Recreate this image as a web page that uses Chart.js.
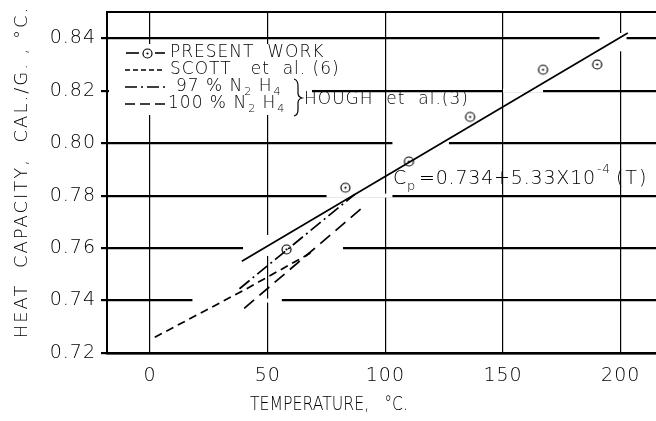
<!DOCTYPE html>
<html>
<head>
<meta charset="utf-8">
<script src="https://cdn.jsdelivr.net/npm/chart.js@4"></script>
<style>
  html, body { margin: 0; padding: 0; background: #fff; }
  #wrap { width: 656px; height: 421px; }
</style>
</head>
<body>
<div id="wrap"><canvas id="chart" width="656" height="421"></canvas></div>
<script>
// present work measurements
const PW_T = [58, 83, 110, 136, 167, 190];
const PW_CP = [0.7595, 0.783, 0.793, 0.810, 0.828, 0.830];
// least squares line Cp = 0.734 + 5.33e-4 T, end points
const FIT_T = [39, 203];
const FIT_CP = [0.755, 0.842];
// Scott et al. (6)
const SCOTT_T = [2, 40, 70];
const SCOTT_CP = [0.726, 0.744, 0.759];
// Hough et al. (3)
const H97_T = [38, 87];
const H97_CP = [0.7445, 0.7805];
const H100_T = [40, 91];
const H100_CP = [0.737, 0.776];

const X_TICKS = [0, 50, 100, 150, 200];
const Y_TICKS = [0.72, 0.74, 0.76, 0.78, 0.80, 0.82, 0.84];

// places where the draftsman left the grid open around the curves (data units)
const H_GAPS = [[0.74, 18, 56], [0.76, 39.5, 82], [0.78, 75, 103], [0.80, 103, 127], [0.82, 150, 167], [0.84, 191, 202.5]];
const V_GAPS = [[50, 0.757, 0.765], [200, 0.835, 0.842]];

const FONT = "DejaVu Sans";
const DASH_SCOTT = [8, 5];
const DASH_97 = [13, 4, 2, 4];
const DASH_100 = [13, 7];

function xy(xs, ys) {
  return xs.map((x, i) => ({ x: x, y: ys[i] }));
}

function dotCircle() {
  const c = document.createElement("canvas");
  c.width = 13;
  c.height = 13;
  const g = c.getContext("2d");
  g.strokeStyle = "#000";
  g.lineWidth = 1.2;
  g.beginPath();
  g.arc(6.5, 6.5, 4.5, 0, Math.PI * 2);
  g.stroke();
  g.fillStyle = "#000";
  g.beginPath();
  g.arc(6.5, 6.5, 1.1, 0, Math.PI * 2);
  g.fill();
  return c;
}
const MARK = dotCircle();

function line(ctx, x1, y1, x2, y2, dash) {
  ctx.setLineDash(dash || []);
  ctx.beginPath();
  ctx.moveTo(x1, y1);
  ctx.lineTo(x2, y2);
  ctx.stroke();
  ctx.setLineDash([]);
}

// draws a piece of text, returns end x
function txt(ctx, s, x, y, size) {
  ctx.font = "200 " + size + "px '" + FONT + "'";
  ctx.fillText(s, x, y);
  return x + ctx.measureText(s).width;
}

const decor = {
  id: "decor",
  beforeDraw(chart) {
    chart.ctx.letterSpacing = "1px";
  },
  beforeDatasetsDraw(chart) {
    const ctx = chart.ctx;
    const a = chart.chartArea;
    const sx = chart.scales.x;
    const sy = chart.scales.y;
    ctx.save();
    ctx.fillStyle = "#fff";
    H_GAPS.forEach(([v, from, to]) => {
      const py = sy.getPixelForValue(v);
      const x1 = sx.getPixelForValue(from);
      ctx.fillRect(x1, py - 2, sx.getPixelForValue(to) - x1, 4);
    });
    V_GAPS.forEach(([v, from, to]) => {
      const px = sx.getPixelForValue(v);
      const y1 = sy.getPixelForValue(to);
      ctx.fillRect(px - 1.5, y1, 3, sy.getPixelForValue(from) - y1);
    });
    // legend box hides the grid
    ctx.fillRect(a.left + 2, 44, 203, 71);
    // top frame
    ctx.strokeStyle = "#000";
    ctx.lineWidth = 2;
    line(ctx, a.left, a.top, a.right, a.top);
    ctx.restore();
  },
  afterDraw(chart) {
    const ctx = chart.ctx;
    ctx.save();
    ctx.fillStyle = "#000";
    ctx.strokeStyle = "#000";
    ctx.textBaseline = "middle";
    ctx.textAlign = "left";
    ctx.letterSpacing = "1px";

    // legend samples
    ctx.lineWidth = 1.6;
    line(ctx, 126, 53, 139, 53);
    ctx.drawImage(MARK, 141, 47);
    line(ctx, 155, 53, 165, 53);
    line(ctx, 125, 70, 165, 70, [5, 3]);
    line(ctx, 125, 87, 165, 87, [12, 4, 2, 4]);
    line(ctx, 125, 104, 165, 104, [10, 5]);

    // legend text
    txt(ctx, "PRESENT  WORK", 170, 53, 17);
    txt(ctx, "SCOTT   et  al. (6)", 170, 70, 17);
    let x = txt(ctx, "97 % N", 176, 87, 17);
    x = txt(ctx, "2", x + 1, 92, 11);
    x = txt(ctx, " H", x, 87, 17);
    txt(ctx, "4", x + 1, 92, 11);
    x = txt(ctx, "100 % N", 168, 104, 17);
    x = txt(ctx, "2", x + 1, 109, 11);
    x = txt(ctx, " H", x, 104, 17);
    txt(ctx, "4", x + 1, 109, 11);

    // brace
    ctx.lineWidth = 1.2;
    ctx.beginPath();
    ctx.moveTo(294, 79);
    ctx.quadraticCurveTo(298, 80, 298, 86);
    ctx.lineTo(298, 93);
    ctx.quadraticCurveTo(298, 97, 302, 98);
    ctx.quadraticCurveTo(298, 99, 298, 103);
    ctx.lineTo(298, 110);
    ctx.quadraticCurveTo(298, 115, 294, 116);
    ctx.stroke();
    txt(ctx, "HOUGH  et  al.(3)", 304, 100, 17);

    // fitted equation
    txt(ctx, "C", 393, 179, 19);
    txt(ctx, "p", 407, 187, 13);
    ctx.letterSpacing = "0.8px";
    x = txt(ctx, "=0.734+5.33X10", 419, 179, 19);
    ctx.letterSpacing = "1px";
    x = txt(ctx, "-4", x + 1, 170, 12);
    ctx.letterSpacing = "2px";
    txt(ctx, "(T)", x + 5, 179, 19);

    // x title, squeezed to the lettering width
    ctx.letterSpacing = "0px";
    ctx.font = "200 19px '" + FONT + "'";
    const xt = "TEMPERATURE,   °C.";
    const w = ctx.measureText(xt).width;
    ctx.save();
    ctx.translate(250, 405);
    ctx.scale(158 / w, 1);
    ctx.fillText(xt, 0, 0);
    ctx.restore();

    // y title
    ctx.textAlign = "center";
    ctx.letterSpacing = "2px";
    ctx.translate(22, 172);
    ctx.rotate(-Math.PI / 2);
    txt(ctx, "HEAT  CAPACITY,  CAL./G. , °C.", 0, 0, 18);
    ctx.restore();
  },
};

const ctx = document.getElementById("chart");
new Chart(ctx, {
  type: "scatter",
  data: {
    datasets: [
      {
        label: "PRESENT WORK",
        data: xy(PW_T, PW_CP),
        pointStyle: MARK,
        pointRadius: 6,
        showLine: false,
      },
      {
        label: "fit",
        data: xy(FIT_T, FIT_CP),
        showLine: true,
        borderColor: "#000",
        borderWidth: 1.7,
        pointRadius: 0,
      },
      {
        label: "SCOTT et al. (6)",
        data: xy(SCOTT_T, SCOTT_CP),
        showLine: true,
        borderColor: "#000",
        borderWidth: 1.7,
        borderDash: DASH_SCOTT,
        pointRadius: 0,
      },
      {
        label: "97 % N2H4",
        data: xy(H97_T, H97_CP),
        showLine: true,
        borderColor: "#000",
        borderWidth: 1.7,
        borderDash: DASH_97,
        pointRadius: 0,
      },
      {
        label: "100 % N2H4",
        data: xy(H100_T, H100_CP),
        showLine: true,
        borderColor: "#000",
        borderWidth: 1.7,
        borderDash: DASH_100,
        pointRadius: 0,
      },
    ],
  },
  options: {
    responsive: false,
    animation: false,
    devicePixelRatio: 1,
    layout: { autoPadding: false, padding: { top: 12, right: 0, left: 0, bottom: 0 } },
    plugins: { legend: { display: false }, tooltip: { enabled: false } },
    scales: {
      x: {
        type: "linear",
        min: -18.3,
        max: 215,
        afterBuildTicks: (s) => { s.ticks = X_TICKS.map((v) => ({ value: v })); },
        afterFit: (s) => { s.height = 68; s.paddingLeft = 0; s.paddingRight = 0; },
        grid: { color: "#000", lineWidth: 1.2, drawTicks: false },
        border: { color: "#000", width: 2.5 },
        ticks: {
          color: "#000",
          padding: 12,
          font: { family: FONT, size: 19, weight: "200" },
          callback: (v) => String(v),
        },
      },
      y: {
        min: 0.72,
        max: 0.85,
        afterBuildTicks: (s) => { s.ticks = Y_TICKS.map((v) => ({ value: v })); },
        afterFit: (s) => { s.width = 107; s.paddingTop = 0; s.paddingBottom = 0; },
        grid: { color: "#000", lineWidth: 2.2, drawTicks: true, tickLength: 6 },
        border: { color: "#000", width: 2 },
        ticks: {
          color: "#000",
          padding: 5,
          font: { family: FONT, size: 19, weight: "200" },
          callback: (v) => v.toFixed(2),
        },
      },
    },
  },
  plugins: [decor],
});
</script>
</body>
</html>
